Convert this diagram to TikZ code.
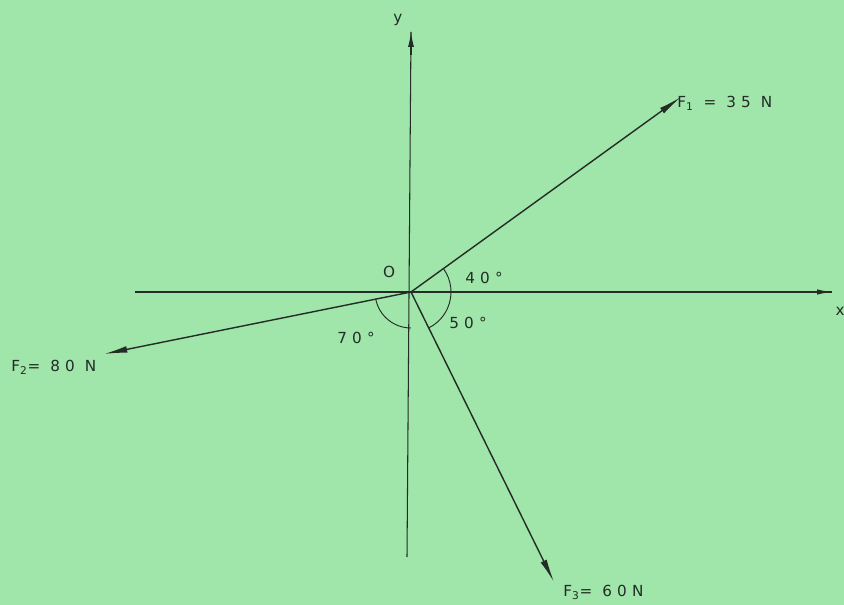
\documentclass[tikz,border=0pt]{standalone}
\usepackage{fontspec}
\setmainfont{DejaVu Sans}
\newfontfamily\lblfont[LetterSpace=34]{DejaVu Sans}
\usetikzlibrary{arrows.meta}
\definecolor{bg}{RGB}{160,229,170}
\definecolor{ink}{RGB}{35,45,38}
\tikzset{
  axis/.style={draw=ink, line width=0.9pt},
  force/.style={draw=ink, line width=1.2pt, -{Latex[length=7mm,width=2mm]}},
  arc/.style={draw=ink, line width=0.8pt},
  lbl/.style={text=ink, font=\lblfont\fontsize{13}{15}\selectfont, inner sep=1pt}
}
\begin{document}
\begin{tikzpicture}[x=0.3mm,y=-0.3mm]
\fill[bg] (0,0) rectangle (844,605);
\useasboundingbox (0,0) rectangle (844,605);
\coordinate (O) at (411,292);
\coordinate (xL) at (135,292);
\coordinate (xR) at (832,292);
\coordinate (xA) at (812,292);
\coordinate (yB) at (407,557);
\coordinate (yT) at (411,32);
\coordinate (yA) at (411,55);
\coordinate (F1) at (681,97);
\coordinate (F2) at (104,354);
\coordinate (F3) at (554,582);
\draw[axis] (xL) -- (xR);
\draw[axis, -{Latex[length=4.5mm,width=1.6mm]}] (xA) -- (xR);
\draw[axis] (yB) -- (yT);
\draw[axis, -{Latex[length=4.5mm,width=1.8mm]}] (yA) -- (yT);
\draw[force] (O) -- (F1);
\draw[force] (O) -- (F2);
\draw[force] (O) -- (F3);
% angle arcs
\draw[arc] (O) ++(-36:40) arc[start angle=-36, end angle=63, radius=40];
\draw[arc] (O) ++(169:36) arc[start angle=169, end angle=90, radius=36];
\node[lbl] (lx) at (840,311) {x};
\node[lbl] (ly) at (398,20) {y};
\node[lbl] (lO) at (389,272) {O};
\node[lbl] (a40) at (484,278) {40°};
\node[lbl] (a50) at (468,323) {50°};
\node[lbl] (a70) at (356,338) {70°};
\node[lbl, anchor=west] (l1) at (676,103) {F\textsubscript{1} = 35 N};
\node[lbl, anchor=west] (l2) at (10,367) {F\textsubscript{2}= 80 N};
\node[lbl, anchor=west] (l3) at (562,592) {F\textsubscript{3}= 60N};
\end{tikzpicture}
\end{document}
